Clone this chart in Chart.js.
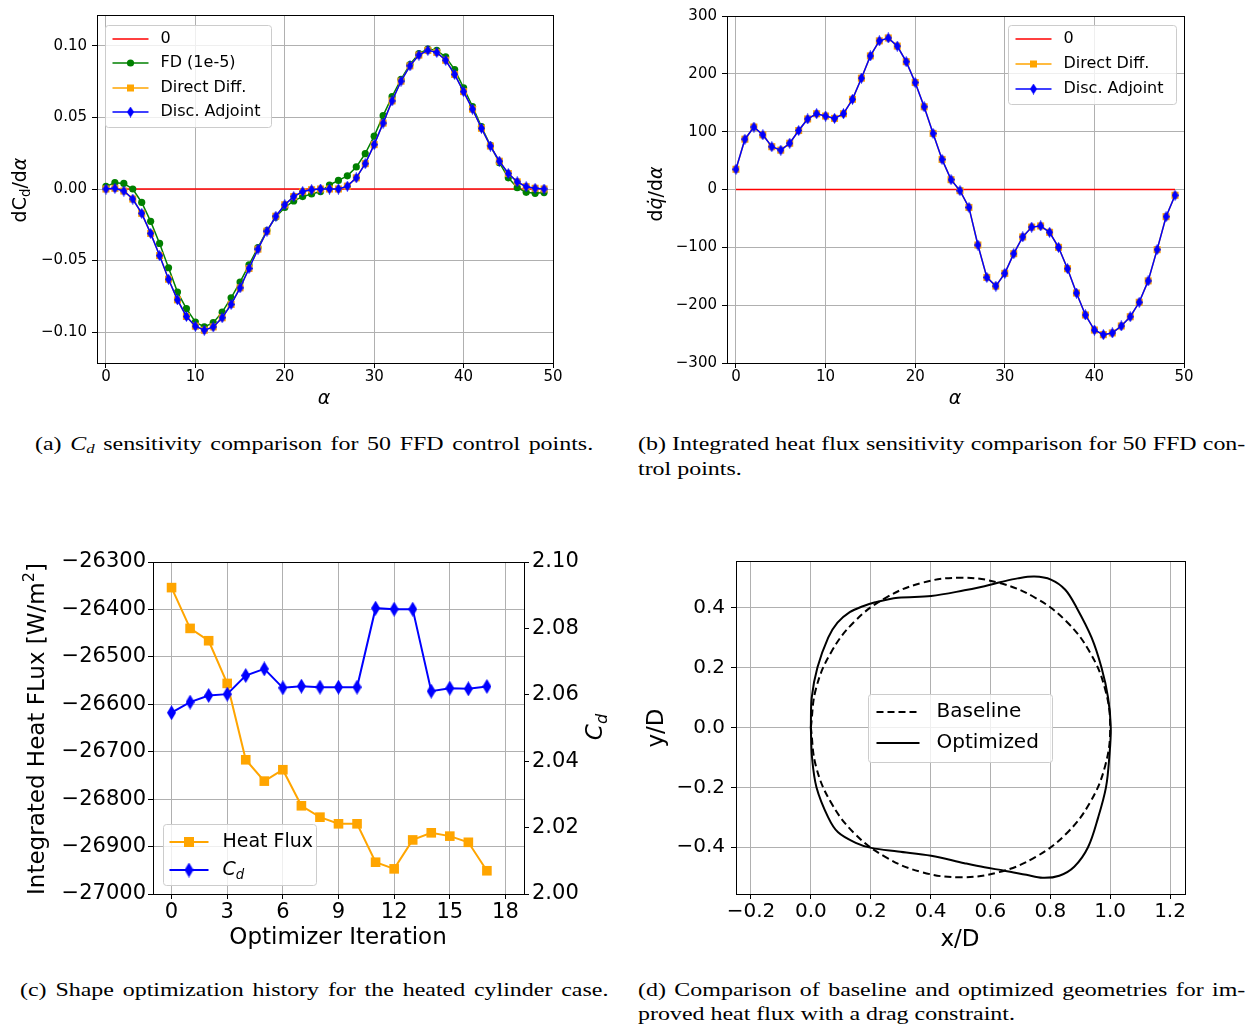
<!DOCTYPE html>
<html><head><meta charset="utf-8"><title>Sensitivity comparison and shape optimization</title>
<script src="https://cdn.jsdelivr.net/npm/chart.js@4.4.1/dist/chart.umd.min.js"></script>
<style>
body{margin:0;background:#fff;}
#page{position:relative;width:1255px;height:1024px;overflow:hidden;background:#fff;}
.cap{position:absolute;font-family:"Liberation Serif","Times New Roman",serif;font-size:19px;line-height:20px;color:#000;white-space:nowrap;transform:scaleX(1.26);transform-origin:0 0;}
.j{text-align:justify;text-align-last:justify;}
.cap sub{font-size:70%;vertical-align:-0.25em;line-height:0;}
</style></head>
<body><div id="page">
<canvas id="ca" width="570" height="415" style="position:absolute;left:0;top:0"></canvas>
<canvas id="cb" width="625" height="415" style="position:absolute;left:630px;top:0"></canvas>
<canvas id="cc" width="630" height="440" style="position:absolute;left:0;top:520px"></canvas>
<canvas id="cd" width="625" height="440" style="position:absolute;left:630px;top:520px"></canvas>
<div class="cap j" style="left:35px;top:434px;width:443px">(a) <i>C</i><sub><i>d</i></sub> sensitivity comparison for 50 FFD control points.</div>
<div class="cap j" style="left:638px;top:434px;width:482px">(b) Integrated heat flux sensitivity comparison for 50 FFD con-</div>
<div class="cap" style="left:638px;top:459px;">trol points.</div>
<div class="cap j" style="left:20px;top:980px;width:467px">(c) Shape optimization history for the heated cylinder case.</div>
<div class="cap j" style="left:638px;top:980px;width:482px">(d) Comparison of baseline and optimized geometries for im-</div>
<div class="cap" style="left:638px;top:1004px;">proved heat flux with a drag constraint.</div>
</div>
<script>
// ---------------- DATA ----------------
// (a) Cd sensitivity
const controlPoints = [0,1,2,3,4,5,6,7,8,9,10,11,12,13,14,15,16,17,18,19,20,21,22,23,24,25,26,27,28,29,30,31,32,33,34,35,36,37,38,39,40,41,42,43,44,45,46,47,48,49];
const zeroX = [0, 49];
const zeroY = [0, 0];
const cdFD = [0.0018,0.0044,0.0039,0.0000,-0.0094,-0.0226,-0.0380,-0.0550,-0.0720,-0.0836,
  -0.0929,-0.0963,-0.0933,-0.0860,-0.0760,-0.0650,-0.0530,-0.0410,-0.0290,-0.0196,
  -0.0129,-0.0083,-0.0053,-0.0035,-0.0018,0.0028,0.0060,0.0092,0.0154,0.0247,
  0.0369,0.0512,0.0645,0.0765,0.0869,0.0945,0.0977,0.0968,0.0922,0.0834,
  0.0707,0.0576,0.0435,0.0304,0.0184,0.0078,0.0009,-0.0023,-0.0030,-0.0025];
const cdDirect = [0.0000,0.0005,-0.0014,-0.0070,-0.0170,-0.0310,-0.0465,-0.0630,-0.0774,-0.0890,
  -0.0958,-0.0986,-0.0963,-0.0899,-0.0806,-0.0690,-0.0555,-0.0420,-0.0295,-0.0190,
  -0.0110,-0.0053,-0.0018,-0.0005,0.0000,0.0000,0.0000,0.0020,0.0078,0.0177,
  0.0310,0.0460,0.0615,0.0753,0.0860,0.0935,0.0968,0.0954,0.0899,0.0800,
  0.0680,0.0558,0.0424,0.0300,0.0194,0.0108,0.0050,0.0016,0.0005,0.0000];
const cdAdjoint = [0.0000,0.0005,-0.0014,-0.0070,-0.0170,-0.0310,-0.0465,-0.0630,-0.0774,-0.0890,
  -0.0958,-0.0986,-0.0963,-0.0899,-0.0806,-0.0690,-0.0555,-0.0420,-0.0295,-0.0190,
  -0.0110,-0.0053,-0.0018,-0.0005,0.0000,0.0000,0.0000,0.0020,0.0078,0.0177,
  0.0310,0.0460,0.0615,0.0753,0.0860,0.0935,0.0968,0.0954,0.0899,0.0800,
  0.0680,0.0558,0.0424,0.0300,0.0194,0.0108,0.0050,0.0016,0.0005,0.0000];
const aXTicks = [0,10,20,30,40,50];
const aXLabels = ['0','10','20','30','40','50'];
const aYTicks = [-0.10,-0.05,0.00,0.05,0.10];
const aYLabels = ['\u22120.10','\u22120.05','0.00','0.05','0.10'];
const aLegend = ['0','FD (1e-5)','Direct Diff.','Disc. Adjoint'];

// (b) heat flux sensitivity
const hfDirect = [35,87,108,94.5,74,68,80,102,122,131,
  127,123,131,156,192.5,231,257,262,248,221,
  185,143,97,52,17,-2,-31,-96,-152,-167,
  -145,-111,-82,-65,-63,-74,-100,-137,-179,-217,
  -243,-251,-248,-236,-220,-195,-158,-104,-47,-10];
const hfAdjoint = [35,87,108,94.5,74,68,80,102,122,131,
  127,123,131,156,192.5,231,257,262,248,221,
  185,143,97,52,17,-2,-31,-96,-152,-167,
  -145,-111,-82,-65,-63,-74,-100,-137,-179,-217,
  -243,-251,-248,-236,-220,-195,-158,-104,-47,-10];
const bXTicks = [0,10,20,30,40,50];
const bXLabels = ['0','10','20','30','40','50'];
const bYTicks = [-300,-200,-100,0,100,200,300];
const bYLabels = ['\u2212300','\u2212200','\u2212100','0','100','200','300'];
const bLegend = ['0','Direct Diff.','Disc. Adjoint'];

// (c) optimization history
const iterations = [0,1,2,3,4,5,6,7,8,9,10,11,12,13,14,15,16,17];
const heatFlux = [-26354,-26440,-26466,-26556,-26717,-26762,-26738,-26814,-26838,-26852,-26852,-26933,-26947,-26886,-26871,-26878,-26891,-26951];
const cdHistory = [2.0546,2.0578,2.0598,2.0602,2.0658,2.0678,2.0621,2.0626,2.0623,2.0623,2.0623,2.0861,2.0858,2.0858,2.0611,2.0620,2.0618,2.0625];
const cXTicks = [0,3,6,9,12,15,18];
const cXLabels = ['0','3','6','9','12','15','18'];
const cYLTicks = [-27000,-26900,-26800,-26700,-26600,-26500,-26400,-26300];
const cYLLabels = ['\u221227000','\u221226900','\u221226800','\u221226700','\u221226600','\u221226500','\u221226400','\u221226300'];
const cYRTicks = [2.00,2.02,2.04,2.06,2.08,2.10];
const cYRLabels = ['2.00','2.02','2.04','2.06','2.08','2.10'];

// (d) geometries
const baseX = [0,0.017,0.067,0.146,0.25,0.371,0.5,0.629,0.75,0.854,0.933,0.983,1,0.983,0.933,0.854,0.75,0.629,0.5,0.371,0.25,0.146,0.067,0.017,0];
const baseY = [0,0.129,0.25,0.354,0.433,0.483,0.5,0.483,0.433,0.354,0.25,0.129,0,-0.129,-0.25,-0.354,-0.433,-0.483,-0.5,-0.483,-0.433,-0.354,-0.25,-0.129,0];
const optX = [0.000,0.003,0.022,0.058,0.089,0.130,0.174,0.215,0.291,0.402,0.513,0.580,0.636,0.691,0.747,0.802,0.850,0.888,0.938,0.971,0.993,1.002,
  0.997,0.986,0.960,0.926,0.880,0.830,0.774,0.720,0.647,0.580,0.513,0.402,0.291,0.202,0.150,0.091,0.058,0.019,0.004,0.000];
const optY = [0.000,0.100,0.200,0.300,0.350,0.385,0.405,0.418,0.433,0.439,0.458,0.472,0.486,0.498,0.504,0.494,0.460,0.400,0.300,0.200,0.100,0.000,
  -0.100,-0.200,-0.300,-0.400,-0.465,-0.495,-0.502,-0.492,-0.478,-0.467,-0.453,-0.428,-0.414,-0.402,-0.385,-0.350,-0.300,-0.200,-0.100,0.000];
const dXTicks = [-0.2,0.0,0.2,0.4,0.6,0.8,1.0,1.2];
const dXLabels = ['\u22120.2','0.0','0.2','0.4','0.6','0.8','1.0','1.2'];
const dYTicks = [-0.4,-0.2,0.0,0.2,0.4];
const dYLabels = ['\u22120.4','\u22120.2','0.0','0.2','0.4'];
const dLegend = ['Baseline','Optimized'];

// ---------------- HELPERS ----------------
const FONT = '"DejaVu Sans", "Liberation Sans", sans-serif';
const RED = '#ff0000', GREEN = '#008000', ORANGE = '#ffa500', BLUE = '#0000ff', BLACK = '#000000';
function pts(xs, ys){ return xs.map((x,i)=>({x:x, y:ys[i]})); }
function diamond(w, h, color){
  const c = document.createElement('canvas'); c.width = w; c.height = h;
  const g = c.getContext('2d'); g.fillStyle = color;
  g.beginPath(); g.moveTo(w/2,0); g.lineTo(w,h/2); g.lineTo(w/2,h); g.lineTo(0,h/2); g.closePath(); g.fill();
  return c;
}
const dSmall = diamond(7, 11, BLUE);
const dBig = diamond(9, 15, BLUE);

function scale(cfg){
  return {
    type:'linear', position: cfg.pos, min: cfg.min, max: cfg.max, bounds:'data',
    afterBuildTicks: s => { s.ticks = cfg.ticks.map(v=>({value:v})); },
    afterFit: s => { if (cfg.w != null) s.width = cfg.w; if (cfg.h != null) s.height = cfg.h; },
    ticks: { autoSkip:false, maxRotation:0, minRotation:0, padding: cfg.pad, color:'#000',
      font:{family:FONT, size:cfg.fs}, callback: (v,i)=>cfg.labels[i] },
    grid: { drawOnChartArea: cfg.grid !== false, color:'#b0b0b0', lineWidth:1, drawTicks:true,
      tickLength:5, tickColor:'#000', tickWidth:1 },
    border: { display:false },
    title: { display:false }
  };
}

function drawRich(ctx, parts, x, y, rot, size, align){
  ctx.save(); ctx.translate(x, y); ctx.rotate(rot || 0);
  let total = 0;
  const ms = parts.map(p => {
    const fs = (p.sub || p.sup) ? size*0.7 : size;
    const f = (p.it ? 'italic ' : '') + fs + 'px ' + FONT;
    ctx.font = f; const w = ctx.measureText(p.t).width; total += w;
    return {p:p, f:f, w:w, fs:fs};
  });
  let cx = align === 'left' ? 0 : -total/2;
  ctx.fillStyle = '#000'; ctx.textBaseline = 'middle'; ctx.textAlign = 'left';
  ms.forEach(m => {
    ctx.font = m.f;
    let dy = 0; if (m.p.sub) dy = size*0.28; if (m.p.sup) dy = -size*0.38;
    ctx.fillText(m.p.t, cx, dy); cx += m.w;
  });
  ctx.restore();
}
function drawMarker(ctx, m, x, y){
  if (!m) return;
  ctx.save(); ctx.setLineDash([]);
  if (m.type === 'circle'){ ctx.fillStyle = m.color; ctx.beginPath(); ctx.arc(x, y, m.r, 0, Math.PI*2); ctx.fill(); }
  else if (m.type === 'square'){ ctx.fillStyle = m.color; ctx.fillRect(x - m.s/2, y - m.s/2, m.s, m.s); }
  else if (m.type === 'img'){ ctx.drawImage(m.img, x - m.img.width/2, y - m.img.height/2); }
  ctx.restore();
}

const extras = {};
const framePlugin = {
  id:'frame',
  afterDatasetsDraw(chart){
    const ctx = chart.ctx, a = chart.chartArea;
    const l = Math.round(a.left), t = Math.round(a.top), r = Math.round(a.right), b = Math.round(a.bottom);
    ctx.save(); ctx.strokeStyle = '#000'; ctx.lineWidth = 1; ctx.setLineDash([]);
    ctx.strokeRect(l+0.5, t+0.5, r-l, b-t); ctx.restore();
  },
  afterDraw(chart){
    const ex = extras[chart.canvas.id]; if (!ex) return;
    const ctx = chart.ctx, a = chart.chartArea;
    const L = ex.legend;
    if (L){
      const x0 = Math.round(a.left + L.dx) + 0.5, y0 = Math.round(a.top + L.dy) + 0.5;
      ctx.save();
      ctx.beginPath(); ctx.roundRect(x0, y0, L.w, L.h, 3);
      ctx.fillStyle = 'rgba(255,255,255,0.8)'; ctx.fill();
      ctx.strokeStyle = '#cccccc'; ctx.lineWidth = 1; ctx.stroke();
      L.items.forEach((it, i) => {
        const cy = Math.round(y0 + L.first + i*L.rowH);
        ctx.save();
        ctx.strokeStyle = it.color; ctx.lineWidth = it.lw; ctx.setLineDash(it.dash || []);
        ctx.beginPath(); ctx.moveTo(x0 + L.l0, cy); ctx.lineTo(x0 + L.l1, cy); ctx.stroke();
        ctx.restore();
        drawMarker(ctx, it.marker, x0 + (L.l0 + L.l1)/2, cy);
        drawRich(ctx, it.parts, x0 + L.tx, cy, 0, L.fs, 'left');
      });
      ctx.restore();
    }
    (ex.titles || []).forEach(t => drawRich(ctx, t.parts, t.x, t.y, t.rot, t.fs, 'center'));
  }
};

function baseOptions(scales, padding){
  return {
    responsive:false, animation:false, devicePixelRatio:1, events:[],
    layout:{ padding: padding, autoPadding:false },
    plugins:{ legend:{display:false}, tooltip:{enabled:false} },
    scales: scales
  };
}
function lineDS(label, xs, ys, color, lw, extra){
  return Object.assign({ label:label, data: pts(xs, ys), showLine:true, borderColor:color, backgroundColor:color,
    borderWidth:lw, pointRadius:0, pointBorderWidth:0, pointBackgroundColor:color, pointBorderColor:color, tension:0, fill:false }, extra || {});
}

// ---------------- (a) ----------------
extras.ca = {
  titles: [
    {parts:[{t:'dC'},{t:'d',sub:true},{t:'/d'},{t:'\u03b1',it:true}], x:21, y:190, rot:-Math.PI/2, fs:19},
    {parts:[{t:'\u03b1',it:true}], x:324, y:399, rot:0, fs:19}
  ],
  legend: { dx:8, dy:10, w:166, h:102, first:13, rowH:24.6, l0:7, l1:43, tx:55, fs:16,
    items: [
      {parts:[{t:aLegend[0]}], color:RED, lw:1.5},
      {parts:[{t:aLegend[1]}], color:GREEN, lw:1.5, marker:{type:'circle', r:3.6, color:GREEN}},
      {parts:[{t:aLegend[2]}], color:ORANGE, lw:1.5, marker:{type:'square', s:7, color:ORANGE}},
      {parts:[{t:aLegend[3]}], color:BLUE, lw:1.5, marker:{type:'img', img:dSmall}}
    ]}
};
new Chart(document.getElementById('ca'), {
  type:'scatter', plugins:[framePlugin],
  data:{ datasets:[
    lineDS(aLegend[0], zeroX, zeroY, RED, 1.5, {order:4}),
    lineDS(aLegend[1], controlPoints, cdFD, GREEN, 1.5, {order:3, pointStyle:'circle', pointRadius:3.6}),
    lineDS(aLegend[2], controlPoints, cdDirect, ORANGE, 1.5, {order:2, pointStyle:'rect', pointRadius:5}),
    lineDS(aLegend[3], controlPoints, cdAdjoint, BLUE, 1.5, {order:1, pointStyle:dSmall, pointRadius:4})
  ]},
  options: baseOptions({
    x: scale({pos:'bottom', min:-1, max:50, ticks:aXTicks, labels:aXLabels, fs:15, pad:0, h:52}),
    y: scale({pos:'left', min:-0.1215, max:0.1215, ticks:aYTicks, labels:aYLabels, fs:15, pad:5, w:97})
  }, {top:15, right:17, left:0, bottom:0})
});

// ---------------- (b) ----------------
extras.cb = {
  titles: [
    {parts:[{t:'d'},{t:'q\u0307',it:true},{t:'/d'},{t:'\u03b1',it:true}], x:27.5, y:194, rot:-Math.PI/2, fs:19},
    {parts:[{t:'\u03b1',it:true}], x:325, y:399, rot:0, fs:19}
  ],
  legend: { dx:281, dy:9, w:168, h:79, first:13, rowH:25, l0:7, l1:43, tx:55, fs:16,
    items: [
      {parts:[{t:bLegend[0]}], color:RED, lw:1.5},
      {parts:[{t:bLegend[1]}], color:ORANGE, lw:1.5, marker:{type:'square', s:7, color:ORANGE}},
      {parts:[{t:bLegend[2]}], color:BLUE, lw:1.5, marker:{type:'img', img:dSmall}}
    ]}
};
new Chart(document.getElementById('cb'), {
  type:'scatter', plugins:[framePlugin],
  data:{ datasets:[
    lineDS(bLegend[0], zeroX, zeroY, RED, 1.5, {order:3}),
    lineDS(bLegend[1], controlPoints, hfDirect, ORANGE, 1.5, {order:2, pointStyle:'rect', pointRadius:5}),
    lineDS(bLegend[2], controlPoints, hfAdjoint, BLUE, 1.5, {order:1, pointStyle:dSmall, pointRadius:4})
  ]},
  options: baseOptions({
    x: scale({pos:'bottom', min:-1, max:50, ticks:bXTicks, labels:bXLabels, fs:15, pad:0, h:52}),
    y: scale({pos:'left', min:-300, max:300, ticks:bYTicks, labels:bYLabels, fs:15, pad:5, w:97})
  }, {top:16, right:71, left:0, bottom:0})
});

// ---------------- (c) ----------------
extras.cc = {
  titles: [
    {parts:[{t:'Integrated Heat FLux [W/m'},{t:'2',sup:true},{t:']'}], x:38.5, y:209, rot:-Math.PI/2, fs:23},
    {parts:[{t:'C',it:true},{t:'d',it:true,sub:true}], x:596, y:207, rot:-Math.PI/2, fs:23},
    {parts:[{t:'Optimizer Iteration'}], x:338, y:418, rot:0, fs:23}
  ],
  legend: { dx:10, dy:262, w:153, h:61, first:17, rowH:28.3, l0:6, l1:45, tx:59, fs:19,
    items: [
      {parts:[{t:'Heat Flux'}], color:ORANGE, lw:2, marker:{type:'square', s:10, color:ORANGE}},
      {parts:[{t:'C',it:true},{t:'d',it:true,sub:true}], color:BLUE, lw:2, marker:{type:'img', img:dBig}}
    ]}
};
new Chart(document.getElementById('cc'), {
  type:'scatter', plugins:[framePlugin],
  data:{ datasets:[
    lineDS('Heat Flux', iterations, heatFlux, ORANGE, 2, {order:2, yAxisID:'yL', pointStyle:'rect', pointRadius:6.8}),
    lineDS('Cd', iterations, cdHistory, BLUE, 2, {order:1, yAxisID:'yR', pointStyle:dBig, pointRadius:4})
  ]},
  options: baseOptions({
    x: scale({pos:'bottom', min:-1, max:19, ticks:cXTicks, labels:cXLabels, fs:21, pad:1, h:66}),
    yL: scale({pos:'left', min:-27000, max:-26300, ticks:cYLTicks, labels:cYLLabels, fs:21, pad:2, w:153}),
    yR: scale({pos:'right', min:2.00, max:2.10, ticks:cYRTicks, labels:cYRLabels, fs:21, pad:3, w:106, grid:false})
  }, {top:42, right:0, left:0, bottom:0})
});

// ---------------- (d) ----------------
extras.cd = {
  titles: [
    {parts:[{t:'y/D'}], x:27, y:208, rot:-Math.PI/2, fs:23},
    {parts:[{t:'x/D'}], x:330, y:420, rot:0, fs:23}
  ],
  legend: { dx:132, dy:133, w:184, h:68, first:17, rowH:31, l0:8, l1:51, tx:68, fs:20,
    items: [
      {parts:[{t:dLegend[0]}], color:BLACK, lw:2, dash:[7,4]},
      {parts:[{t:dLegend[1]}], color:BLACK, lw:2}
    ]}
};
new Chart(document.getElementById('cd'), {
  type:'scatter', plugins:[framePlugin],
  data:{ datasets:[
    lineDS(dLegend[0], baseX, baseY, BLACK, 2, {borderDash:[7,4], tension:0.4}),
    lineDS(dLegend[1], optX, optY, BLACK, 2, {tension:0.35})
  ]},
  options: baseOptions({
    x: scale({pos:'bottom', min:-0.25, max:1.25, ticks:dXTicks, labels:dXLabels, fs:20, pad:1, h:66}),
    y: scale({pos:'left', min:-0.556, max:0.556, ticks:dYTicks, labels:dYLabels, fs:20, pad:6, w:106})
  }, {top:41, right:70, left:0, bottom:0})
});
</script>
</body></html>
